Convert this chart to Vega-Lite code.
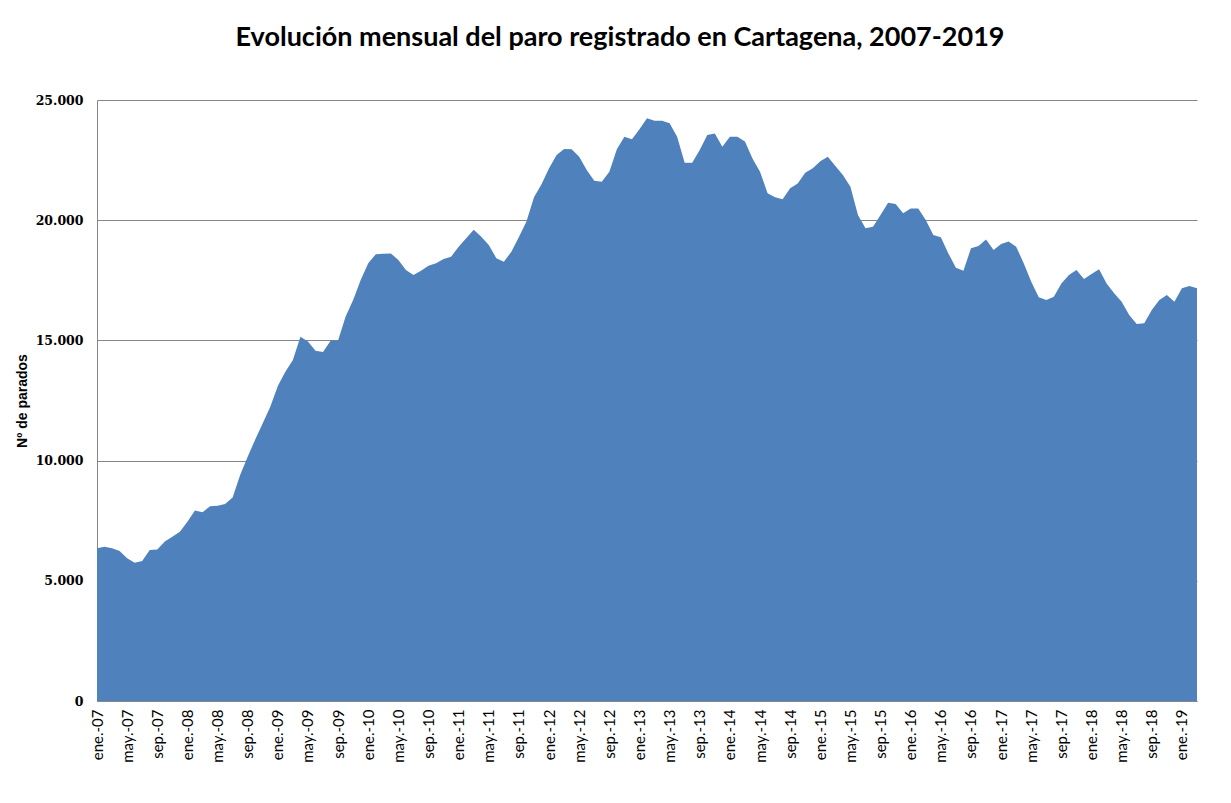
{
  "$schema": "https://vega.github.io/schema/vega-lite/v6.json",
  "width": 1100,
  "height": 601,
  "autosize": {"type": "none"},
  "padding": {"left": 97, "top": 100, "right": 34, "bottom": 102},
  "background": "white",
  "title": {
    "text": "Evolución mensual del paro registrado en Cartagena, 2007-2019",
    "font": "Lato",
    "fontSize": 27,
    "fontWeight": "bold",
    "color": "#000000",
    "anchor": "middle",
    "dx": -27,
    "offset": 42
  },
  "data": {
    "values": [
      {"mes": "ene.-07", "parados": 6350}, {"mes": "feb.-07", "parados": 6420}, {"mes": "mar.-07", "parados": 6350}, {"mes": "abr.-07", "parados": 6240},
      {"mes": "may.-07", "parados": 5940}, {"mes": "jun.-07", "parados": 5750}, {"mes": "jul.-07", "parados": 5820}, {"mes": "ago.-07", "parados": 6280},
      {"mes": "sep.-07", "parados": 6300}, {"mes": "oct.-07", "parados": 6630}, {"mes": "nov.-07", "parados": 6830}, {"mes": "dic.-07", "parados": 7040},
      {"mes": "ene.-08", "parados": 7460}, {"mes": "feb.-08", "parados": 7920}, {"mes": "mar.-08", "parados": 7850}, {"mes": "abr.-08", "parados": 8100},
      {"mes": "may.-08", "parados": 8120}, {"mes": "jun.-08", "parados": 8190}, {"mes": "jul.-08", "parados": 8470}, {"mes": "ago.-08", "parados": 9400},
      {"mes": "sep.-08", "parados": 10160}, {"mes": "oct.-08", "parados": 10880}, {"mes": "nov.-08", "parados": 11550}, {"mes": "dic.-08", "parados": 12240},
      {"mes": "ene.-09", "parados": 13100}, {"mes": "feb.-09", "parados": 13700}, {"mes": "mar.-09", "parados": 14180}, {"mes": "abr.-09", "parados": 15150},
      {"mes": "may.-09", "parados": 14950}, {"mes": "jun.-09", "parados": 14570}, {"mes": "jul.-09", "parados": 14520}, {"mes": "ago.-09", "parados": 14990},
      {"mes": "sep.-09", "parados": 15000}, {"mes": "oct.-09", "parados": 15990}, {"mes": "nov.-09", "parados": 16680}, {"mes": "dic.-09", "parados": 17510},
      {"mes": "ene.-10", "parados": 18210}, {"mes": "feb.-10", "parados": 18580}, {"mes": "mar.-10", "parados": 18600}, {"mes": "abr.-10", "parados": 18620},
      {"mes": "may.-10", "parados": 18340}, {"mes": "jun.-10", "parados": 17930}, {"mes": "jul.-10", "parados": 17720}, {"mes": "ago.-10", "parados": 17900},
      {"mes": "sep.-10", "parados": 18110}, {"mes": "oct.-10", "parados": 18210}, {"mes": "nov.-10", "parados": 18390}, {"mes": "dic.-10", "parados": 18480},
      {"mes": "ene.-11", "parados": 18900}, {"mes": "feb.-11", "parados": 19250}, {"mes": "mar.-11", "parados": 19600}, {"mes": "abr.-11", "parados": 19310},
      {"mes": "may.-11", "parados": 18970}, {"mes": "jun.-11", "parados": 18420}, {"mes": "jul.-11", "parados": 18270}, {"mes": "ago.-11", "parados": 18690},
      {"mes": "sep.-11", "parados": 19300}, {"mes": "oct.-11", "parados": 19950}, {"mes": "nov.-11", "parados": 20950}, {"mes": "dic.-11", "parados": 21500},
      {"mes": "ene.-12", "parados": 22160}, {"mes": "feb.-12", "parados": 22710}, {"mes": "mar.-12", "parados": 22960}, {"mes": "abr.-12", "parados": 22950},
      {"mes": "may.-12", "parados": 22640}, {"mes": "jun.-12", "parados": 22090}, {"mes": "jul.-12", "parados": 21640}, {"mes": "ago.-12", "parados": 21600},
      {"mes": "sep.-12", "parados": 22020}, {"mes": "oct.-12", "parados": 22950}, {"mes": "nov.-12", "parados": 23470}, {"mes": "dic.-12", "parados": 23370},
      {"mes": "ene.-13", "parados": 23780}, {"mes": "feb.-13", "parados": 24240}, {"mes": "mar.-13", "parados": 24140}, {"mes": "abr.-13", "parados": 24140},
      {"mes": "may.-13", "parados": 24030}, {"mes": "jun.-13", "parados": 23470}, {"mes": "jul.-13", "parados": 22390}, {"mes": "ago.-13", "parados": 22390},
      {"mes": "sep.-13", "parados": 22920}, {"mes": "oct.-13", "parados": 23540}, {"mes": "nov.-13", "parados": 23610}, {"mes": "dic.-13", "parados": 23060},
      {"mes": "ene.-14", "parados": 23470}, {"mes": "feb.-14", "parados": 23470}, {"mes": "mar.-14", "parados": 23270}, {"mes": "abr.-14", "parados": 22570},
      {"mes": "may.-14", "parados": 22020}, {"mes": "jun.-14", "parados": 21120}, {"mes": "jul.-14", "parados": 20950}, {"mes": "ago.-14", "parados": 20870},
      {"mes": "sep.-14", "parados": 21330}, {"mes": "oct.-14", "parados": 21530}, {"mes": "nov.-14", "parados": 21970}, {"mes": "dic.-14", "parados": 22160},
      {"mes": "ene.-15", "parados": 22450}, {"mes": "feb.-15", "parados": 22640}, {"mes": "mar.-15", "parados": 22250}, {"mes": "abr.-15", "parados": 21880},
      {"mes": "may.-15", "parados": 21390}, {"mes": "jun.-15", "parados": 20220}, {"mes": "jul.-15", "parados": 19660}, {"mes": "ago.-15", "parados": 19730},
      {"mes": "sep.-15", "parados": 20220}, {"mes": "oct.-15", "parados": 20730}, {"mes": "nov.-15", "parados": 20670}, {"mes": "dic.-15", "parados": 20290},
      {"mes": "ene.-16", "parados": 20490}, {"mes": "feb.-16", "parados": 20490}, {"mes": "mar.-16", "parados": 20010}, {"mes": "abr.-16", "parados": 19380},
      {"mes": "may.-16", "parados": 19290}, {"mes": "jun.-16", "parados": 18620}, {"mes": "jul.-16", "parados": 18020}, {"mes": "ago.-16", "parados": 17900},
      {"mes": "sep.-16", "parados": 18830}, {"mes": "oct.-16", "parados": 18930}, {"mes": "nov.-16", "parados": 19200}, {"mes": "dic.-16", "parados": 18760},
      {"mes": "ene.-17", "parados": 19010}, {"mes": "feb.-17", "parados": 19110}, {"mes": "mar.-17", "parados": 18900}, {"mes": "abr.-17", "parados": 18210},
      {"mes": "may.-17", "parados": 17440}, {"mes": "jun.-17", "parados": 16790}, {"mes": "jul.-17", "parados": 16680}, {"mes": "ago.-17", "parados": 16820},
      {"mes": "sep.-17", "parados": 17370}, {"mes": "oct.-17", "parados": 17720}, {"mes": "nov.-17", "parados": 17930}, {"mes": "dic.-17", "parados": 17550},
      {"mes": "ene.-18", "parados": 17760}, {"mes": "feb.-18", "parados": 17960}, {"mes": "mar.-18", "parados": 17370}, {"mes": "abr.-18", "parados": 16960},
      {"mes": "may.-18", "parados": 16610}, {"mes": "jun.-18", "parados": 16060}, {"mes": "jul.-18", "parados": 15680}, {"mes": "ago.-18", "parados": 15710},
      {"mes": "sep.-18", "parados": 16260}, {"mes": "oct.-18", "parados": 16680}, {"mes": "nov.-18", "parados": 16890}, {"mes": "dic.-18", "parados": 16610},
      {"mes": "ene.-19", "parados": 17170}, {"mes": "feb.-19", "parados": 17260}, {"mes": "mar.-19", "parados": 17170}
    ]
  },
  "mark": {"type": "area", "color": "#4F81BD", "opacity": 1, "interpolate": "linear"},
  "encoding": {
    "x": {
      "field": "mes",
      "type": "ordinal",
      "sort": null,
      "scale": {"type": "point", "padding": 0},
      "axis": {
        "title": null,
        "values": ["ene.-07", "may.-07", "sep.-07", "ene.-08", "may.-08", "sep.-08", "ene.-09", "may.-09", "sep.-09", "ene.-10", "may.-10", "sep.-10", "ene.-11", "may.-11", "sep.-11", "ene.-12", "may.-12", "sep.-12", "ene.-13", "may.-13", "sep.-13", "ene.-14", "may.-14", "sep.-14", "ene.-15", "may.-15", "sep.-15", "ene.-16", "may.-16", "sep.-16", "ene.-17", "may.-17", "sep.-17", "ene.-18", "may.-18", "sep.-18", "ene.-19"],
        "labelAngle": -90,
        "labelFont": "Lato",
        "labelFontSize": 15,
        "labelColor": "#000000",
        "labelPadding": 8,
        "ticks": false,
        "domainColor": "#868686",
        "grid": false
      }
    },
    "y": {
      "field": "parados",
      "type": "quantitative",
      "scale": {"domain": [0, 25000], "nice": false},
      "axis": {
        "title": "Nº de parados",
        "titleFont": "Liberation Sans",
        "titleFontSize": 14,
        "titleFontWeight": "bold",
        "titleColor": "#000000",
        "titlePadding": 6,
        "values": [0, 5000, 10000, 15000, 20000, 25000],
        "labelExpr": "replace(format(datum.value, ','), ',', '.')",
        "labelFont": "DejaVu Serif",
        "labelFontWeight": "bold",
        "labelFontSize": 12.5,
        "labelColor": "#000000",
        "labelPadding": 14,
        "ticks": false,
        "grid": true,
        "gridColor": "#868686",
        "gridWidth": 1,
        "domainColor": "#868686"
      }
    }
  },
  "config": {
    "view": {"stroke": null}
  }
}
